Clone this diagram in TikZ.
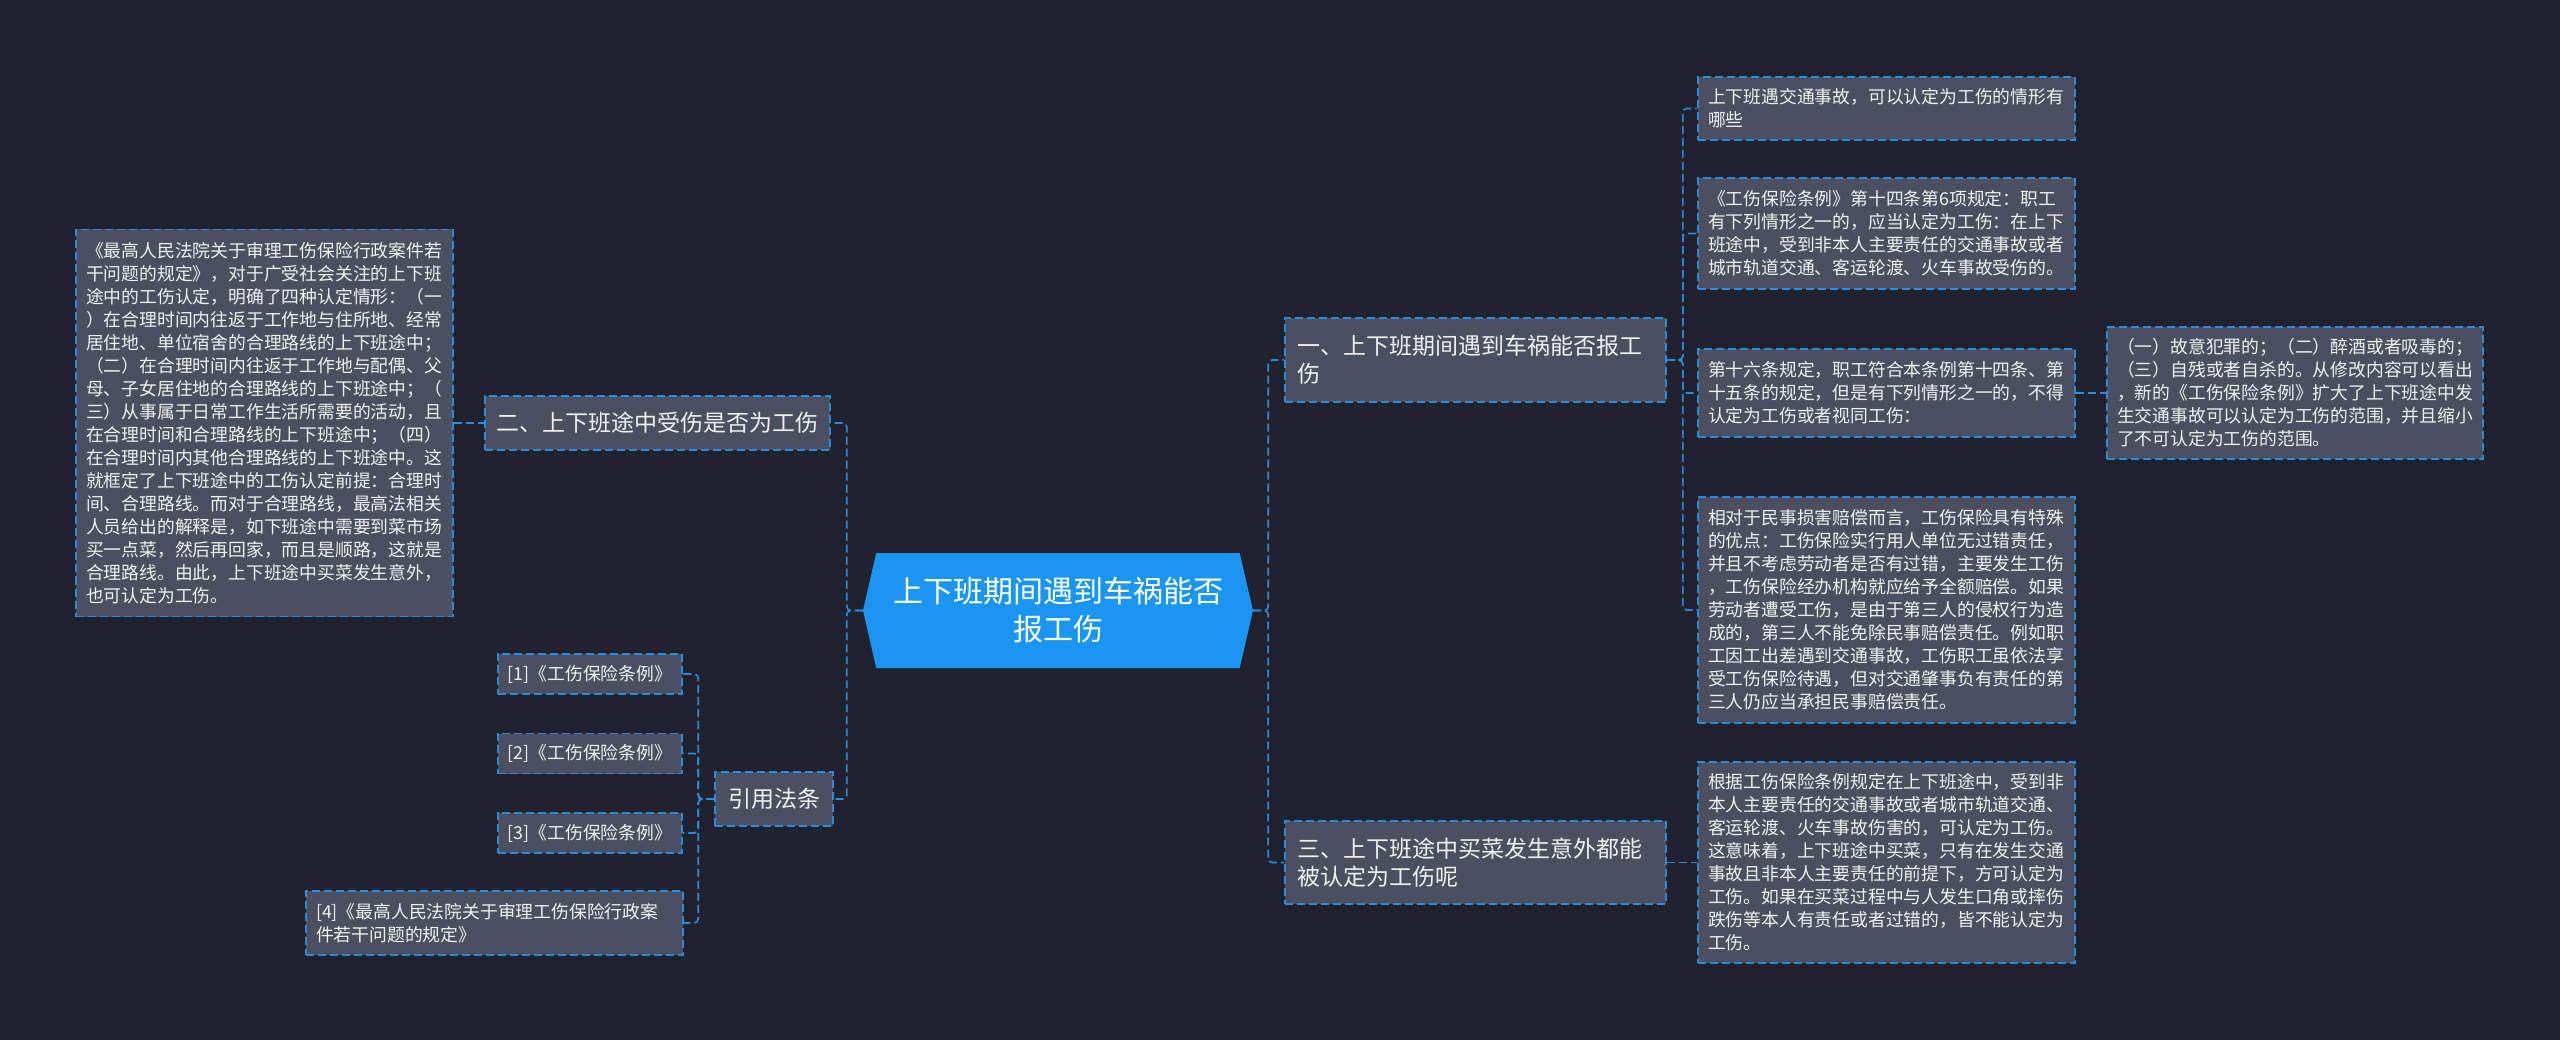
\documentclass[tikz,border=0pt]{standalone}
\usepackage{fontspec}
\setmainfont{Noto Sans CJK SC}
\usetikzlibrary{shapes.symbols, positioning}
\definecolor{bgdark}{RGB}{32,35,46}
\definecolor{boxfill}{RGB}{74,80,95}
\definecolor{linkblue}{RGB}{42,140,222}
\definecolor{rootblue}{RGB}{27,150,240}
\definecolor{textwhite}{RGB}{240,240,240}

\tikzset{
  box/.style={draw=linkblue, fill=boxfill, line width=1.6pt,
              dash pattern=on 8pt off 4pt, text=textwhite,
              inner xsep=10pt, inner ysep=0pt},
  topic/.style={box, font=\fontsize{23}{28}\selectfont,
                text width=357pt, align=left, inner xsep=12pt},
  leaf/.style={box, font=\fontsize{17.8}{23}\selectfont,
               text width=357pt, align=left},
  lawbox/.style={box, font=\fontsize{17.8}{23}\selectfont,
                 minimum width=184pt, minimum height=40pt},
  link/.style={draw=linkblue, line width=1.6pt,
               dash pattern=on 8pt off 4pt, rounded corners=4pt}
}

\begin{document}
\begin{tikzpicture}[x=1pt, y=-1pt]
  \useasboundingbox (0,0) rectangle (2560,1040);
  \fill[bgdark] (0,0) rectangle (2560,1040);

  % Root
  \node[signal, signal to=west and east, signal pointer angle=154,
        fill=rootblue, minimum width=390pt, minimum height=115pt,
        font=\fontsize{30}{38}\selectfont, text=white, align=center]
    (root) at (1058,610.5) {上下班期间遇到车祸能否\\报工伤};

  % Left branches
  \node[box, font=\fontsize{23}{28}\selectfont, inner xsep=11.5pt,
        minimum height=54pt]
    (sec2) at (657.5,423) {二、上下班途中受伤是否为工伤};
  \node[leaf, minimum height=387pt] (note2) at (264.5,423)
    {《最高人民法院关于审理工伤保险行政案件若\\
     干问题的规定》，对于广受社会关注的上下班\\
     途中的工伤认定，明确了四种认定情形：（一\\
     ）在合理时间内往返于工作地与住所地、经常\\
     居住地、单位宿舍的合理路线的上下班途中；\\
     （二）在合理时间内往返于工作地与配偶、父\\
     母、子女居住地的合理路线的上下班途中；（\\
     三）从事属于日常工作生活所需要的活动，且\\
     在合理时间和合理路线的上下班途中；（四）\\
     在合理时间内其他合理路线的上下班途中。这\\
     就框定了上下班途中的工伤认定前提：合理时\\
     间、合理路线。而对于合理路线，最高法相关\\
     人员给出的解释是，如下班途中需要到菜市场\\
     买一点菜，然后再回家，而且是顺路，这就是\\
     合理路线。由此，上下班途中买菜发生意外，\\
     也可认定为工伤。};

  \node[box, font=\fontsize{23}{28}\selectfont, minimum width=118pt,
        minimum height=54pt]
    (laws) at (774,799) {引用法条};
  \node[lawbox] (law1) at (590,674) {[1]《工伤保险条例》};
  \node[lawbox] (law2) at (590,753.5) {[2]《工伤保险条例》};
  \node[lawbox] (law3) at (590,833) {[3]《工伤保险条例》};
  \node[leaf, minimum height=64pt] (law4) at (494.5,923)
    {[4]《最高人民法院关于审理工伤保险行政案\\件若干问题的规定》};

  % Right branches
  \node[topic, minimum height=84pt] (sec1) at (1475.5,360)
    {一、上下班期间遇到车祸能否报工\\伤};
  \node[topic, minimum height=83pt] (sec3) at (1475.5,862.5)
    {三、上下班途中买菜发生意外都能\\被认定为工伤呢};

  \node[leaf, minimum height=63pt] (n1) at (1886.5,108.5)
    {上下班遇交通事故，可以认定为工伤的情形有\\哪些};
  \node[leaf, minimum height=111pt] (n2) at (1886.5,233.5)
    {《工伤保险条例》第十四条第6项规定：职工\\
     有下列情形之一的，应当认定为工伤：在上下\\
     班途中，受到非本人主要责任的交通事故或者\\
     城市轨道交通、客运轮渡、火车事故受伤的。};
  \node[leaf, minimum height=88pt] (n3) at (1886.5,393)
    {第十六条规定，职工符合本条例第十四条、第\\
     十五条的规定，但是有下列情形之一的，不得\\
     认定为工伤或者视同工伤：};
  \node[leaf, minimum height=226pt] (n4) at (1886.5,610)
    {相对于民事损害赔偿而言，工伤保险具有特殊\\
     的优点：工伤保险实行用人单位无过错责任，\\
     并且不考虑劳动者是否有过错，主要发生工伤\\
     ，工伤保险经办机构就应给予全额赔偿。如果\\
     劳动者遭受工伤，是由于第三人的侵权行为造\\
     成的，第三人不能免除民事赔偿责任。例如职\\
     工因工出差遇到交通事故，工伤职工虽依法享\\
     受工伤保险待遇，但对交通肇事负有责任的第\\
     三人仍应当承担民事赔偿责任。};
  \node[leaf, text width=356pt, minimum height=132pt] (n3x) at (2295,393)
    {（一）故意犯罪的；（二）醉酒或者吸毒的；\\
     （三）自残或者自杀的。从修改内容可以看出\\
     ，新的《工伤保险条例》扩大了上下班途中发\\
     生交通事故可以认定为工伤的范围，并且缩小\\
     了不可认定为工伤的范围。};
  \node[leaf, minimum height=201pt] (n5) at (1886.5,862.5)
    {根据工伤保险条例规定在上下班途中，受到非\\
     本人主要责任的交通事故或者城市轨道交通、\\
     客运轮渡、火车事故伤害的，可认定为工伤。\\
     这意味着，上下班途中买菜，只有在发生交通\\
     事故且非本人主要责任的前提下，方可认定为\\
     工伤。如果在买菜过程中与人发生口角或摔伤\\
     跌伤等本人有责任或者过错的，皆不能认定为\\
     工伤。};

  % Connectors
  \draw[link] (root.west) -- ++(-16,0) |- (sec2.east);
  \draw[link] (root.west) -- ++(-16,0) |- (laws.east);
  \draw[link] (note2.east) -- (sec2.west);
  \foreach \n in {law1,law2,law3,law4}
    \draw[link] (laws.west) -- ++(-16,0) |- (\n.east);

  \draw[link] (root.east) -- ++(15,0) |- (sec1.west);
  \draw[link] (root.east) -- ++(15,0) |- (sec3.west);
  \foreach \n in {n1,n2,n3,n4}
    \draw[link] (sec1.east) -- ++(16,0) |- (\n.west);
  \draw[link] (n3.east) -- (n3x.west);
  \draw[link] (sec3.east) -- (n5.west);
\end{tikzpicture}
\end{document}
